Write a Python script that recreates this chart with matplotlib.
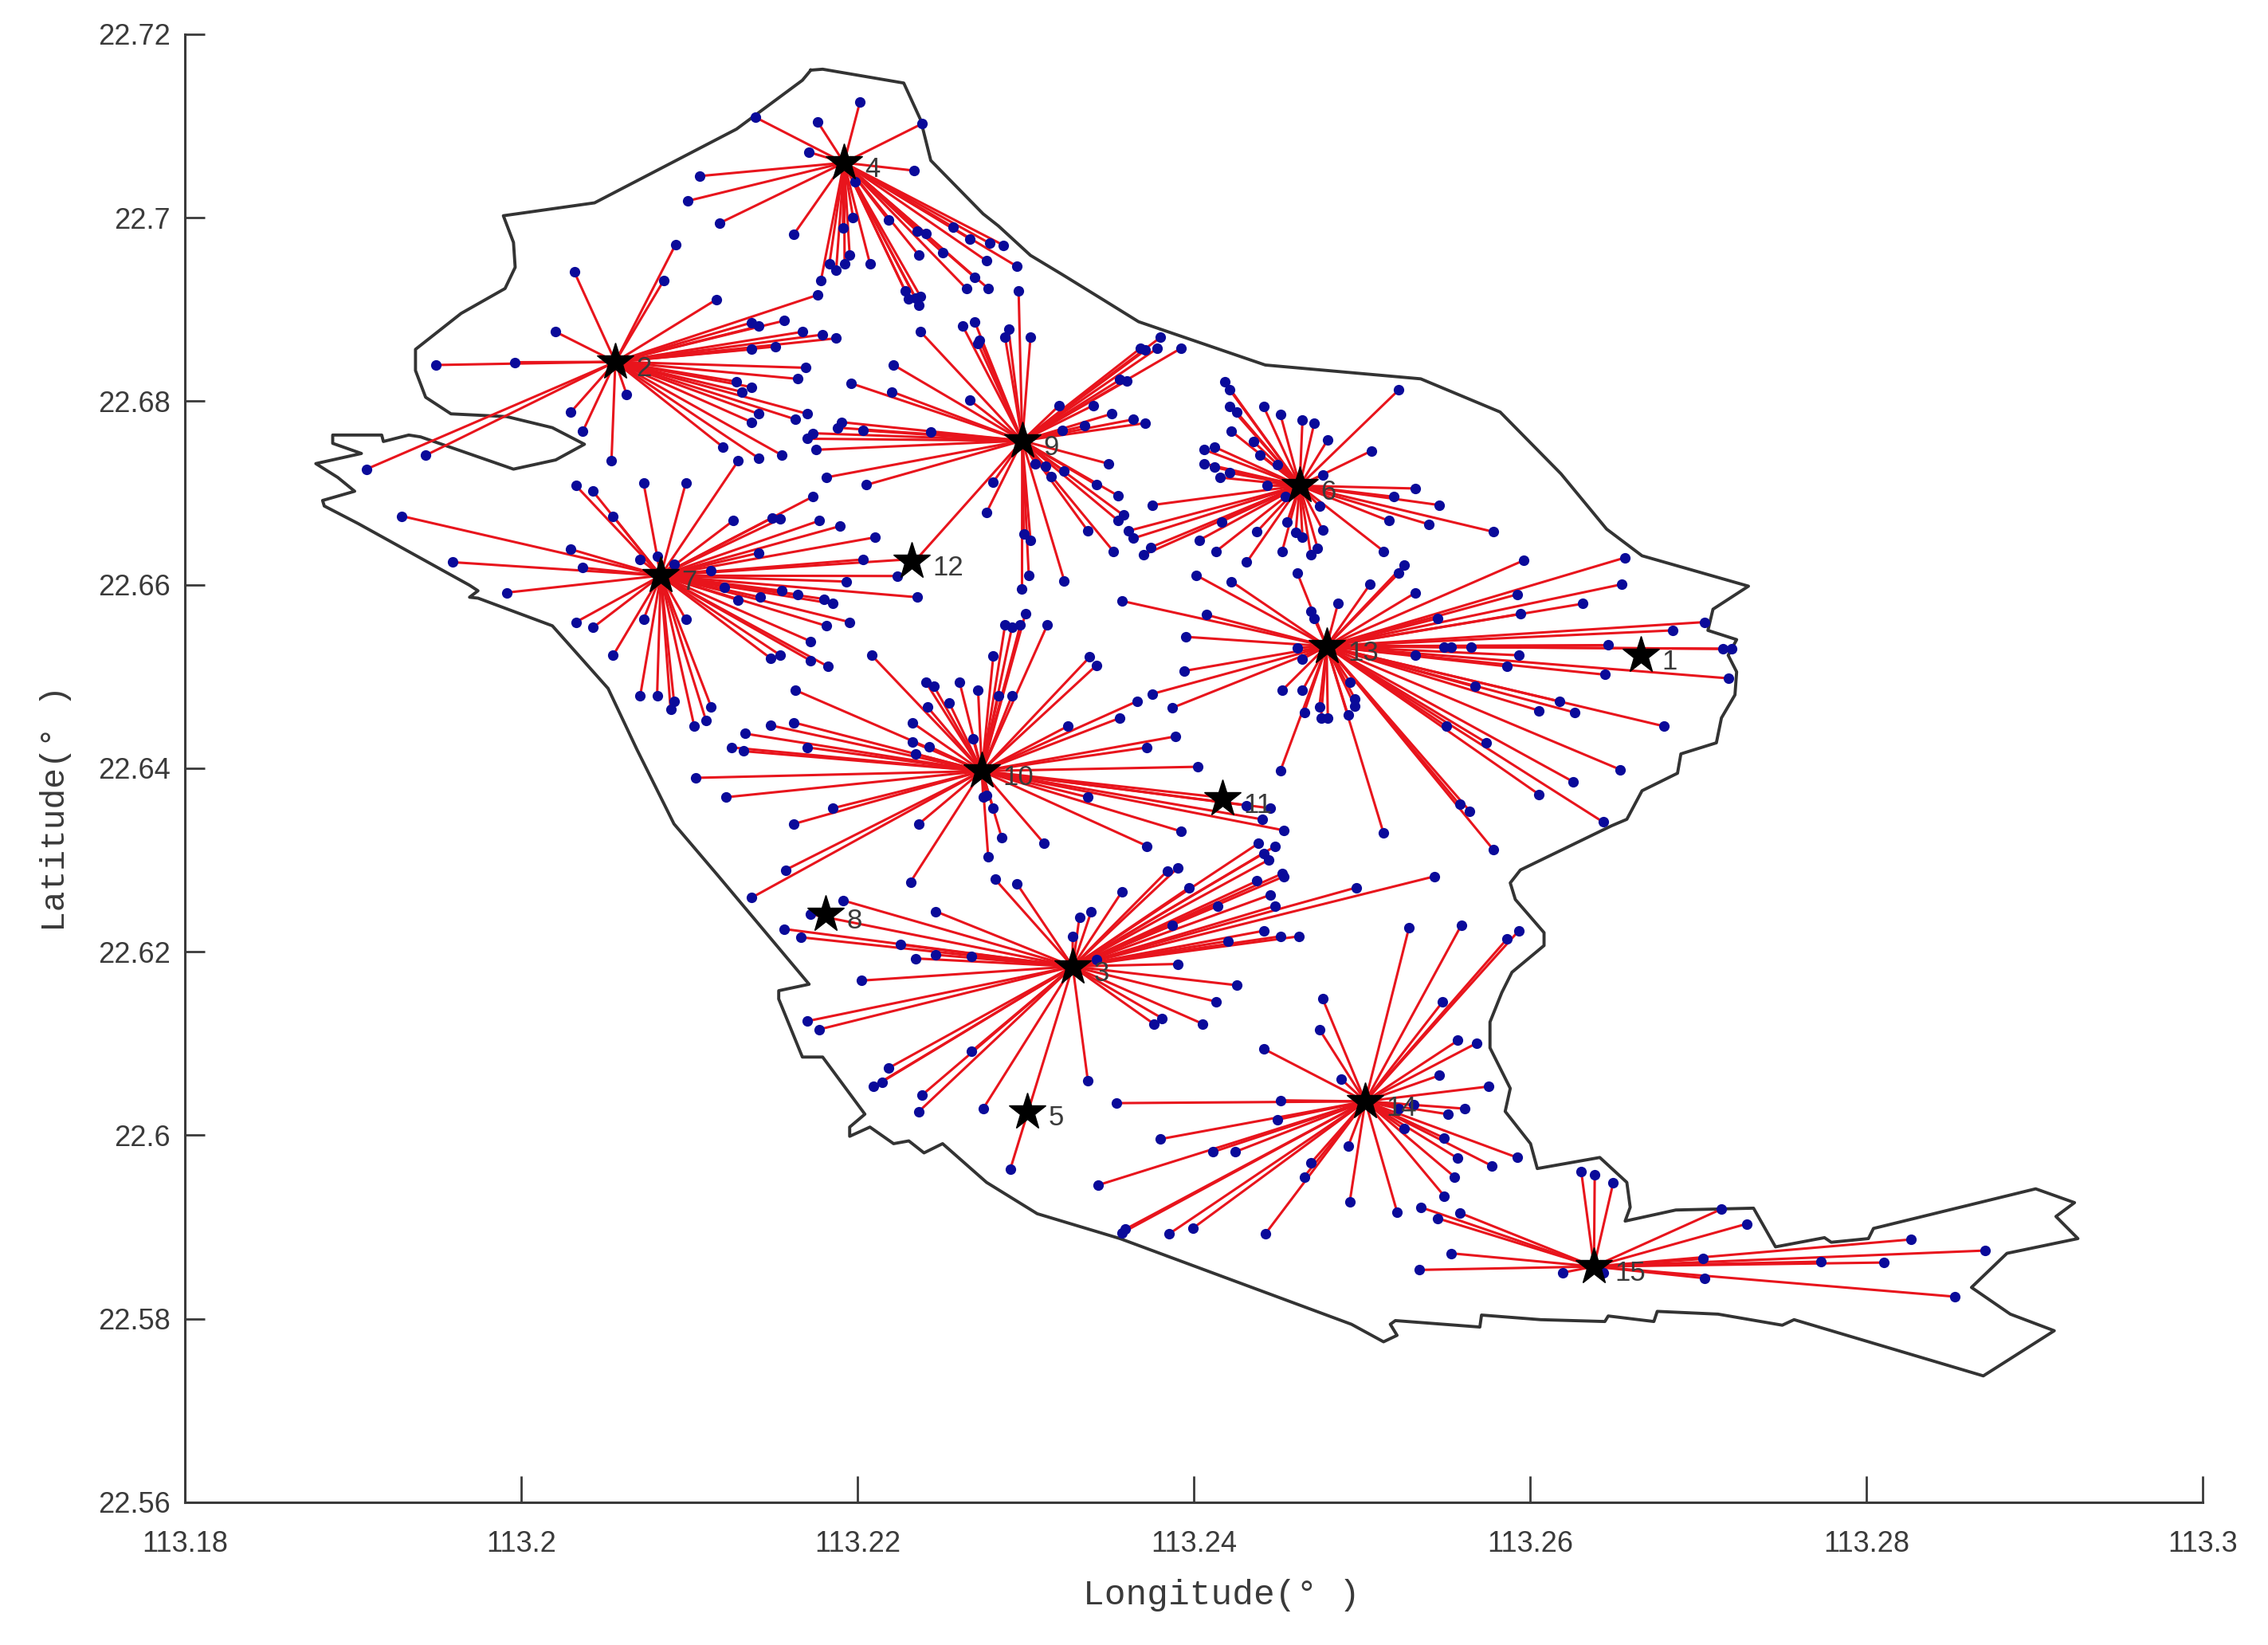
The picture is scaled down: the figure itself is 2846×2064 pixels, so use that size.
"""
Facility sites and their service links, read off the reference map
"""
import matplotlib
matplotlib.use("Agg")
import matplotlib.pyplot as plt

# ==================== map boundary ====================
border_lon = [113.2171, 113.2178, 113.2226, 113.2236, 113.2242, 113.2273, 113.2282, 113.2301, 113.2320, 113.2343,
              113.2365, 113.2440, 113.2532, 113.2579, 113.2615, 113.2642, 113.2663, 113.2726, 113.2705, 113.2702,
              113.2719, 113.2714, 113.2719, 113.2718, 113.2710, 113.2707, 113.2686, 113.2684, 113.2663, 113.2654,
              113.2645, 113.2591, 113.2585, 113.2588, 113.2605, 113.2605, 113.2586, 113.2580, 113.2573, 113.2573,
              113.2585, 113.2582, 113.2597, 113.2601, 113.2638, 113.2654, 113.2656, 113.2653, 113.2683, 113.2729,
              113.2742, 113.2771, 113.2775, 113.2797, 113.2800, 113.2896, 113.2919, 113.2908, 113.2921, 113.2879,
              113.2858, 113.2881, 113.2907, 113.2865, 113.2753, 113.2746, 113.2708, 113.2672, 113.2670, 113.2643,
              113.2641, 113.2603, 113.2568, 113.2567, 113.2517, 113.2514, 113.2518, 113.2510, 113.2491, 113.2354,
              113.2305, 113.2275, 113.2249, 113.2238, 113.2229, 113.2220, 113.2206, 113.2194, 113.2194, 113.2203,
              113.2178, 113.2166, 113.2152, 113.2152, 113.2170, 113.2116, 113.2090, 113.2068, 113.2051, 113.2018,
              113.1974, 113.1969, 113.1974, 113.1969, 113.1903, 113.1883, 113.1882, 113.1901, 113.1891, 113.1878,
              113.1905, 113.1888, 113.1888, 113.1917, 113.1918, 113.1933, 113.1940, 113.1995, 113.2020, 113.2037,
              113.2018, 113.1991, 113.1958, 113.1943, 113.1937, 113.1937, 113.1964, 113.1990, 113.1996, 113.1995,
              113.1989, 113.2043, 113.2127, 113.2166, 113.2171]
border_lat = [22.7162, 22.7163, 22.7148, 22.7108, 22.7064, 22.7006, 22.6993, 22.6961, 22.6940, 22.6914,
              22.6889, 22.6842, 22.6827, 22.6791, 22.6724, 22.6664, 22.6635, 22.6602, 22.6577, 22.6554,
              22.6544, 22.6527, 22.6509, 22.6484, 22.6459, 22.6432, 22.6420, 22.6399, 22.6380, 22.6349,
              22.6342, 22.6294, 22.6280, 22.6262, 22.6226, 22.6212, 22.6183, 22.6161, 22.6129, 22.6101,
              22.6057, 22.6032, 22.5997, 22.5970, 22.5982, 22.5955, 22.5928, 22.5913, 22.5925, 22.5927,
              22.5885, 22.5895, 22.5890, 22.5894, 22.5905, 22.5948, 22.5933, 22.5918, 22.5894, 22.5878,
              22.5841, 22.5812, 22.5794, 22.5745, 22.5806, 22.5800, 22.5812, 22.5815, 22.5804, 22.5810,
              22.5804, 22.5806, 22.5811, 22.5798, 22.5805, 22.5801, 22.5789, 22.5782, 22.5801, 22.5894,
              22.5921, 22.5955, 22.5997, 22.5987, 22.6000, 22.5997, 22.6015, 22.6005, 22.6015, 22.6029,
              22.6091, 22.6091, 22.6154, 22.6163, 22.6170, 22.6288, 22.6344, 22.6425, 22.6491, 22.6559,
              22.6589, 22.6590, 22.6597, 22.6603, 22.6670, 22.6689, 22.6695, 22.6705, 22.6720, 22.6735,
              22.6746, 22.6757, 22.6766, 22.6766, 22.6759, 22.6766, 22.6764, 22.6729, 22.6739, 22.6756,
              22.6774, 22.6786, 22.6789, 22.6807, 22.6836, 22.6859, 22.6898, 22.6925, 22.6948, 22.6975,
              22.7004, 22.7018, 22.7098, 22.7151, 22.7162]

# ==================== sites (stars) ====================
site_labels = ["1", "2", "3", "4", "5", "6", "7", "8", "9", "10", "11", "12", "13", "14", "15"]
site_lon = [113.2666, 113.2056, 113.2328, 113.2192, 113.2301, 113.2463, 113.2083, 113.2181,
            113.2298, 113.2274, 113.2417, 113.2232, 113.2479, 113.2502, 113.2638]
site_lat = [22.6523, 22.6843, 22.6184, 22.7060, 22.6026, 22.6708, 22.6610, 22.6241,
            22.6757, 22.6397, 22.6367, 22.6626, 22.6533, 22.6037, 22.5857]

# ==================== demand points of each linked site ====================
lon_2 = [113.1949, 113.1996, 113.2020, 113.2031, 113.2091, 113.2084, 113.2115, 113.2175, 113.2136, 113.2140,
         113.2155, 113.2166, 113.2178, 113.2186, 113.2136, 113.2150, 113.2168, 113.2163, 113.2127, 113.2136,
         113.2130, 113.2169, 113.2140, 113.2162, 113.2136, 113.2119, 113.2140, 113.2154, 113.2062, 113.2029,
         113.2036, 113.2053, 113.1943, 113.1908]
lat_2 = [22.6842, 22.6845, 22.6878, 22.6943, 22.6973, 22.6934, 22.6913, 22.6918, 22.6888, 22.6884,
         22.6890, 22.6878, 22.6875, 22.6871, 22.6859, 22.6862, 22.6839, 22.6827, 22.6824, 22.6818,
         22.6813, 22.6789, 22.6789, 22.6783, 22.6780, 22.6753, 22.6741, 22.6744, 22.6810, 22.6791,
         22.6770, 22.6738, 22.6744, 22.6729]

lon_3 = [113.2190, 113.2171, 113.2155, 113.2165, 113.2245, 113.2224, 113.2245, 113.2266, 113.2233, 113.2201,
         113.2169, 113.2176, 113.2217, 113.2213, 113.2208, 113.2266, 113.2237, 113.2235, 113.2273, 113.2289,
         113.2335, 113.2280, 113.2293, 113.2330, 113.2337, 113.2326, 113.2355, 113.2382, 113.2388, 113.2395,
         113.2436, 113.2446, 113.2439, 113.2442, 113.2435, 113.2450, 113.2451, 113.2443, 113.2446, 113.2412,
         113.2385, 113.2494, 113.2540, 113.2439, 113.2449, 113.2460, 113.2418, 113.2388, 113.2340, 113.2423,
         113.2411, 113.2379, 113.2374, 113.2403]
lat_3 = [22.6261, 22.6246, 22.6230, 22.6221, 22.6249, 22.6213, 22.6202, 22.6200, 22.6198, 22.6174,
         22.6130, 22.6121, 22.6079, 22.6064, 22.6059, 22.6097, 22.6050, 22.6032, 22.6035, 22.5969,
         22.6065, 22.6284, 22.6279, 22.6243, 22.6249, 22.6222, 22.6270, 22.6293, 22.6296, 22.6275,
         22.6323, 22.6320, 22.6312, 22.6305, 22.6282, 22.6290, 22.6287, 22.6267, 22.6255, 22.6255,
         22.6234, 22.6275, 22.6287, 22.6228, 22.6222, 22.6222, 22.6217, 22.6192, 22.6197, 22.6169,
         22.6151, 22.6133, 22.6127, 22.6127]

lon_4 = [113.2138, 113.2175, 113.2200, 113.2237, 113.2170, 113.2232, 113.2105, 113.2098, 113.2117, 113.2161,
         113.2197, 113.2196, 113.2190, 113.2217, 113.2234, 113.2239, 113.2255, 113.2265, 113.2277, 113.2285,
         113.2235, 113.2249, 113.2275, 113.2293, 113.2268, 113.2263, 113.2276, 113.2206, 113.2194, 113.2191,
         113.2182, 113.2186, 113.2227, 113.2229, 113.2233, 113.2236, 113.2235, 113.2177]
lat_4 = [22.7111, 22.7106, 22.7127, 22.7104, 22.7073, 22.7053, 22.7047, 22.7020, 22.6996, 22.6984,
         22.7041, 22.7002, 22.6991, 22.6999, 22.6987, 22.6985, 22.6992, 22.6979, 22.6974, 22.6972,
         22.6961, 22.6964, 22.6955, 22.6949, 22.6937, 22.6925, 22.6925, 22.6952, 22.6961, 22.6952,
         22.6952, 22.6945, 22.6922, 22.6914, 22.6915, 22.6916, 22.6907, 22.6934]

lon_6 = [113.2519, 113.2416, 113.2419, 113.2419, 113.2423, 113.2439, 113.2449, 113.2462, 113.2469, 113.2477,
         113.2503, 113.2420, 113.2433, 113.2437, 113.2404, 113.2410, 113.2404, 113.2410, 113.2419, 113.2413,
         113.2447, 113.2441, 113.2474, 113.2529, 113.2516, 113.2543, 113.2472, 113.2513, 113.2537, 113.2575,
         113.2510, 113.2373, 113.2359, 113.2362, 113.2372, 113.2368, 113.2401, 113.2411, 113.2414, 113.2429,
         113.2435, 113.2450, 113.2453, 113.2458, 113.2462, 113.2467, 113.2471, 113.2474, 113.2452]
lat_6 = [22.6815, 22.6824, 22.6815, 22.6797, 22.6791, 22.6797, 22.6788, 22.6782, 22.6779, 22.6761,
         22.6749, 22.6770, 22.6759, 22.6744, 22.6750, 22.6753, 22.6735, 22.6731, 22.6725, 22.6720,
         22.6734, 22.6711, 22.6723, 22.6708, 22.6699, 22.6690, 22.6689, 22.6673, 22.6669, 22.6661,
         22.6640, 22.6690, 22.6662, 22.6654, 22.6644, 22.6636, 22.6652, 22.6640, 22.6672, 22.6628,
         22.6661, 22.6640, 22.6672, 22.6660, 22.6655, 22.6636, 22.6643, 22.6663, 22.6699]

lon_7 = [113.1929, 113.2029, 113.1959, 113.2036, 113.1991, 113.2032, 113.2042, 113.2054, 113.2072, 113.2097,
         113.2128, 113.2070, 113.2080, 113.2090, 113.2172, 113.2125, 113.2148, 113.2153, 113.2176, 113.2188,
         113.2209, 113.2140, 113.2202, 113.2112, 113.2222, 113.2192, 113.2234, 113.2120, 113.2154, 113.2163,
         113.2179, 113.2184, 113.2128, 113.2141, 113.2194, 113.2180, 113.2171, 113.2153, 113.2147, 113.2171,
         113.2181, 113.2032, 113.2042, 113.2072, 113.2097, 113.2054, 113.2070, 113.2080, 113.2090, 113.2088,
         113.2112, 113.2109, 113.2102, 113.2228]
lat_7 = [22.6678, 22.6642, 22.6628, 22.6622, 22.6595, 22.6711, 22.6705, 22.6678, 22.6714, 22.6714,
         22.6738, 22.6631, 22.6634, 22.6626, 22.6699, 22.6673, 22.6676, 22.6675, 22.6673, 22.6667,
         22.6655, 22.6638, 22.6631, 22.6619, 22.6613, 22.6607, 22.6590, 22.6601, 22.6597, 22.6593,
         22.6588, 22.6583, 22.6587, 22.6590, 22.6563, 22.6559, 22.6542, 22.6527, 22.6524, 22.6521,
         22.6515, 22.6563, 22.6557, 22.6566, 22.6566, 22.6527, 22.6483, 22.6483, 22.6477, 22.6468,
         22.6471, 22.6456, 22.6450, 22.6631]

lon_9 = [113.2294, 113.2236, 113.2261, 113.2268, 113.2271, 113.2270, 113.2288, 113.2286, 113.2301, 113.2220,
         113.2195, 113.2219, 113.2265, 113.2189, 113.2187, 113.2202, 113.2172, 113.2169, 113.2242, 113.2174,
         113.2180, 113.2204, 113.2279, 113.2275, 113.2233, 113.2297, 113.2301, 113.2300, 113.2296, 113.2321,
         113.2350, 113.2335, 113.2353, 113.2356, 113.2353, 113.2340, 113.2347, 113.2304, 113.2310, 113.2313,
         113.2321, 113.2318, 113.2338, 113.2320, 113.2333, 113.2349, 113.2362, 113.2369, 113.2354, 113.2358,
         113.2366, 113.2369, 113.2376, 113.2378, 113.2390]
lat_9 = [22.6922, 22.6878, 22.6884, 22.6889, 22.6869, 22.6865, 22.6881, 22.6872, 22.6872, 22.6842,
         22.6822, 22.6813, 22.6804, 22.6780, 22.6774, 22.6771, 22.6768, 22.6762, 22.6769, 22.6750,
         22.6720, 22.6712, 22.6715, 22.6682, 22.6630, 22.6659, 22.6652, 22.6614, 22.6599, 22.6608,
         22.6640, 22.6662, 22.6673, 22.6679, 22.6700, 22.6712, 22.6735, 22.6735, 22.6732, 22.6721,
         22.6727, 22.6798, 22.6798, 22.6771, 22.6776, 22.6789, 22.6783, 22.6779, 22.6826, 22.6825,
         22.6860, 22.6858, 22.6860, 22.6872, 22.6860]

lon_10 = [113.2298, 113.2286, 113.2290, 113.2295, 113.2311, 113.2279, 113.2336, 113.2340, 113.2207, 113.2162,
          113.2239, 113.2244, 113.2259, 113.2270, 113.2282, 113.2290, 113.2240, 113.2253, 113.2231, 113.2231,
          113.2241, 113.2233, 113.2267, 113.2147, 113.2161, 113.2132, 113.2169, 113.2124, 113.2131, 113.2103,
          113.2121, 113.2184, 113.2161, 113.2235, 113.2156, 113.2136, 113.2230, 113.2275, 113.2273, 113.2279,
          113.2284, 113.2276, 113.2309, 113.2370, 113.2390, 113.2335, 113.2364, 113.2354, 113.2323, 113.2387,
          113.2370, 113.2400, 113.2443, 113.2438, 113.2451, 113.2429, 113.2417]
lat_10 = [22.6572, 22.6560, 22.6557, 22.6560, 22.6560, 22.6526, 22.6525, 22.6516, 22.6527, 22.6489,
          22.6498, 22.6493, 22.6498, 22.6489, 22.6483, 22.6483, 22.6471, 22.6475, 22.6454, 22.6433,
          22.6428, 22.6420, 22.6436, 22.6451, 22.6454, 22.6442, 22.6427, 22.6427, 22.6423, 22.6394,
          22.6373, 22.6361, 22.6344, 22.6344, 22.6294, 22.6264, 22.6281, 22.6375, 22.6373, 22.6361,
          22.6329, 22.6308, 22.6323, 22.6320, 22.6336, 22.6373, 22.6477, 22.6459, 22.6450, 22.6439,
          22.6427, 22.6406, 22.6361, 22.6349, 22.6337, 22.6364, 22.6372]

lon_13 = [113.2593, 113.2653, 113.2651, 113.2589, 113.2628, 113.2591, 113.2542, 113.2700, 113.2681, 113.2643,
          113.2711, 113.2716, 113.2590, 113.2562, 113.2546, 113.2550, 113.2529, 113.2583, 113.2641, 113.2714,
          113.2564, 113.2614, 113.2602, 113.2623, 113.2676, 113.2547, 113.2571, 113.2650, 113.2622, 113.2602,
          113.2561, 113.2555, 113.2640, 113.2575, 113.2510, 113.2449, 113.2463, 113.2472, 113.2473, 113.2477,
          113.2489, 113.2493, 113.2493, 113.2490, 113.2450, 113.2462, 113.2462, 113.2459, 113.2392, 113.2373,
          113.2385, 113.2393, 113.2355, 113.2405, 113.2399, 113.2420, 113.2459, 113.2467, 113.2469, 113.2483,
          113.2502, 113.2519, 113.2522, 113.2529]
lat_13 = [22.6630, 22.6633, 22.6604, 22.6593, 22.6583, 22.6572, 22.6567, 22.6563, 22.6554, 22.6538,
          22.6534, 22.6534, 22.6527, 22.6536, 22.6536, 22.6536, 22.6527, 22.6515, 22.6506, 22.6502,
          22.6493, 22.6477, 22.6467, 22.6465, 22.6450, 22.6450, 22.6432, 22.6403, 22.6390, 22.6376,
          22.6358, 22.6365, 22.6346, 22.6316, 22.6334, 22.6402, 22.6465, 22.6471, 22.6459, 22.6459,
          22.6462, 22.6480, 22.6472, 22.6498, 22.6489, 22.6489, 22.6523, 22.6535, 22.6510, 22.6485,
          22.6470, 22.6547, 22.6586, 22.6571, 22.6614, 22.6607, 22.6616, 22.6575, 22.6567, 22.6583,
          22.6604, 22.6616, 22.6625, 22.6595]

lon_14 = [113.2525, 113.2556, 113.2590, 113.2583, 113.2545, 113.2474, 113.2472, 113.2439, 113.2485, 113.2554,
          113.2565, 113.2543, 113.2572, 113.2528, 113.2519, 113.2558, 113.2548, 113.2522, 113.2546, 113.2554,
          113.2574, 113.2552, 113.2546, 113.2589, 113.2518, 113.2490, 113.2489, 113.2467, 113.2463, 113.2440,
          113.2449, 113.2352, 113.2447, 113.2378, 113.2409, 113.2422, 113.2341, 113.2397, 113.2383, 113.2357,
          113.2355]
lat_14 = [22.6231, 22.6234, 22.6228, 22.6219, 22.6151, 22.6154, 22.6121, 22.6100, 22.6067, 22.6109,
          22.6106, 22.6071, 22.6059, 22.6039, 22.6035, 22.6035, 22.6029, 22.6013, 22.6003, 22.5981,
          22.5973, 22.5961, 22.5940, 22.5982, 22.5923, 22.5934, 22.5994, 22.5976, 22.5961, 22.5899,
          22.6044, 22.6041, 22.6023, 22.6002, 22.5988, 22.5988, 22.5952, 22.5905, 22.5899, 22.5904,
          22.5900]

lon_15 = [113.2627, 113.2635, 113.2646, 113.2532, 113.2542, 113.2555, 113.2550, 113.2531, 113.2616, 113.2640,
          113.2710, 113.2725, 113.2822, 113.2866, 113.2699, 113.2769, 113.2806, 113.2700, 113.2848]
lat_15 = [22.5967, 22.5963, 22.5955, 22.5928, 22.5916, 22.5922, 22.5878, 22.5860, 22.5857, 22.5857,
          22.5926, 22.5910, 22.5893, 22.5881, 22.5872, 22.5869, 22.5868, 22.5851, 22.5831]

x_ticks = [113.18, 113.2, 113.22, 113.24, 113.26, 113.28, 113.3]
x_tick_labels = ["113.18", "113.2", "113.22", "113.24", "113.26", "113.28", "113.3"]
y_ticks = [22.56, 22.58, 22.6, 22.62, 22.64, 22.66, 22.68, 22.7, 22.72]
y_tick_labels = ["22.56", "22.58", "22.6", "22.62", "22.64", "22.66", "22.68", "22.7", "22.72"]

links = [("2", lon_2, lat_2), ("3", lon_3, lat_3), ("4", lon_4, lat_4), ("6", lon_6, lat_6),
         ("7", lon_7, lat_7), ("9", lon_9, lat_9), ("10", lon_10, lat_10), ("13", lon_13, lat_13),
         ("14", lon_14, lat_14), ("15", lon_15, lat_15)]

GREY = "#3a3a3a"


# my readings of points and border used a slightly wide frame, correct them to the real tick scale
def fix_lon(values):
    return [113.18 + (v - 113.18) * 1.00474 - 0.00005 for v in values]


def fix_lat(values):
    return [22.56 + (v - 22.56) * 1.0043 - 0.00078 for v in values]


fig = plt.figure(figsize=(28.46, 20.64), dpi=100)
ax = fig.add_axes([232 / 2846, 1 - 1885 / 2064, (2764 - 232) / 2846, (1885 - 43) / 2064])

ax.plot(fix_lon(border_lon), fix_lat(border_lat), color="#333333", lw=2.8, zorder=1)

# red links first, then the points over them
for site, lons, lats in links:
    i = site_labels.index(site)
    for lo, la in zip(fix_lon(lons), fix_lat(lats)):
        ax.plot([site_lon[i], lo], [site_lat[i], la], color="#e8141c", lw=2.2, zorder=2)
for site, lons, lats in links:
    ax.plot(fix_lon(lons), fix_lat(lats), ls="none", marker="o", ms=8.5, color="#0a0a9a", mec="#0a0a9a", zorder=3)

ax.plot(site_lon, site_lat, ls="none", marker="*", ms=35, color="black", mec="black", zorder=4)
for name, lo, la in zip(site_labels, site_lon, site_lat):
    ax.annotate(name, (lo, la), xytext=(19, -6), textcoords="offset points", va="center", ha="left",
                fontsize=25, color=GREY, family="Liberation Sans", zorder=5)

ax.set_xlim(113.18, 113.3)
ax.set_ylim(22.56, 22.72)
ax.set_xticks(x_ticks)
ax.set_xticklabels(x_tick_labels)
ax.set_yticks(y_ticks)
ax.set_yticklabels(y_tick_labels)
ax.tick_params(axis="x", direction="in", length=24, width=2, color=GREY, pad=25, labelcolor=GREY)
ax.tick_params(axis="y", direction="in", length=18, width=2, color=GREY, pad=13, labelcolor=GREY)
for lab in ax.get_xticklabels() + ax.get_yticklabels():
    lab.set_family("Liberation Sans")
    lab.set_fontsize(26)
for s in ["top", "right"]:
    ax.spines[s].set_visible(False)
for s in ["left", "bottom"]:
    ax.spines[s].set_linewidth(2.2)
    ax.spines[s].set_color(GREY)

ax.set_xlabel("Longitude(° )", family="Liberation Mono", fontsize=32, color=GREY)
ax.set_ylabel("Latitude(° )", family="Liberation Mono", fontsize=31, color=GREY)
ax.xaxis.set_label_coords(0.5137, -0.0522)
ax.yaxis.set_label_coords(-0.056, 0.4725)

fig.savefig("out.png", dpi=100, facecolor="white")
